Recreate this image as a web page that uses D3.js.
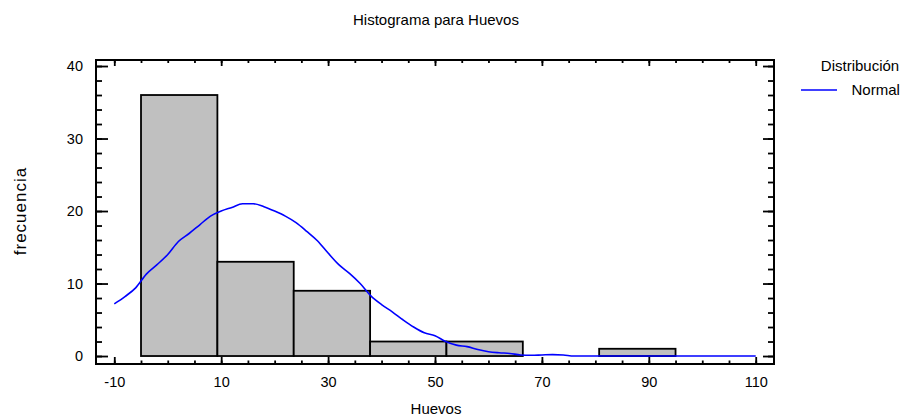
<!DOCTYPE html>
<html>
<head>
<meta charset="utf-8">
<script src="https://cdn.jsdelivr.net/npm/d3@7"></script>
<style>
  body { margin: 0; background: #fff; }
  text { font-family: "Liberation Sans", Arial, sans-serif; fill: #000; }
</style>
</head>
<body>
<svg id="chart" width="904" height="417"></svg>
<script>
// ---- data ----
const binEdges = [-5, 9.29, 23.57, 37.86, 52.14, 66.43, 80.71, 95];
const binCounts = [36, 13, 9, 2, 2, 0, 1];

const normalX = [-10, -8, -6, -4, -2, 0, 2, 4, 6, 8, 10, 12, 14, 16, 18, 20, 22, 24, 26, 28, 30,
  32, 34, 36, 38, 40, 42, 44, 46, 48, 50, 52, 54, 56, 58, 60, 62, 64, 66, 68, 70, 72, 74, 76, 80, 90, 100, 110];
const normalY = [7.2, 8.2, 9.4, 11.3, 12.6, 14.0, 15.8, 16.9, 18.1, 19.3, 20.0, 20.5, 21.0, 21.0, 20.6, 20.0,
  19.3, 18.4, 17.2, 15.9, 14.2, 12.6, 11.4, 10.0, 8.3, 7.1, 6.1, 5.0, 4.0, 3.2, 2.8, 2.0, 1.5, 1.3, 0.9, 0.6,
  0.45, 0.35, 0.15, 0.1, 0.15, 0.2, 0.15, 0, 0, 0, 0, 0];

const xTickLabels = [-10, 10, 30, 50, 70, 90, 110];
const xMinorTicks = d3.range(-10, 111, 5);
const yTickLabels = [0, 10, 20, 30, 40];
const yMinorTicks = d3.range(0, 41, 2);

const titleText = "Histograma para Huevos";
const xLabel = "Huevos";
const yLabel = "frecuencia";
const legendTitle = "Distribución";
const legendItem = "Normal";

// ---- layout ----
const L = 96, R = 774, T = 60, B = 364;
const svg = d3.select("#chart");

const x = d3.scaleLinear().domain([-13.42, 113.42]).range([L, R]);
const y = d3.scaleLinear().domain([-1.1, 40.83]).range([B, T]);
const fmt = d => String(d);

// bars
const bars = binCounts.map((c, i) => ({ x0: binEdges[i], x1: binEdges[i + 1], c }));
svg.append("g").selectAll("rect").data(bars).join("rect")
  .attr("x", d => x(d.x0))
  .attr("y", d => y(d.c))
  .attr("width", d => x(d.x1) - x(d.x0))
  .attr("height", d => y(0) - y(d.c))
  .attr("fill", "#c0c0c0")
  .attr("stroke", "#000")
  .attr("stroke-width", 1.8);

// normal curve
const line = d3.line().x((d, i) => x(normalX[i])).y(d => y(d)).curve(d3.curveMonotoneX);
svg.append("path").datum(normalY)
  .attr("d", line)
  .attr("fill", "none")
  .attr("stroke", "#0000ff")
  .attr("stroke-width", 1.6);

// axes helper
function styleAxis(g) {
  g.select(".domain").remove();
  g.selectAll("line").attr("stroke", "#000").attr("stroke-width", 1.8);
  g.selectAll("text").style("font-size", "14.5px").style("font-family", '"Liberation Sans", Arial, sans-serif').attr("fill", "#000");
}

// bottom major + labels
svg.append("g").attr("transform", `translate(0,${B})`)
  .call(d3.axisBottom(x).tickValues(xTickLabels).tickSize(-7).tickPadding(13).tickFormat(fmt))
  .call(styleAxis);
// bottom minor
svg.append("g").attr("transform", `translate(0,${B})`)
  .call(d3.axisBottom(x).tickValues(xMinorTicks).tickSize(-3.5).tickFormat(""))
  .call(styleAxis);
// top major/minor
svg.append("g").attr("transform", `translate(0,${T})`)
  .call(d3.axisTop(x).tickValues(xTickLabels).tickSize(-6).tickFormat(""))
  .call(styleAxis);
svg.append("g").attr("transform", `translate(0,${T})`)
  .call(d3.axisTop(x).tickValues(xMinorTicks).tickSize(-3).tickFormat(""))
  .call(styleAxis);
// left major + labels
svg.append("g").attr("transform", `translate(${L},0)`)
  .call(d3.axisLeft(y).tickValues(yTickLabels).tickSize(-12).tickPadding(13).tickFormat(fmt))
  .call(styleAxis);
svg.append("g").attr("transform", `translate(${L},0)`)
  .call(d3.axisLeft(y).tickValues(yMinorTicks).tickSize(-6).tickFormat(""))
  .call(styleAxis);
// right
svg.append("g").attr("transform", `translate(${R},0)`)
  .call(d3.axisRight(y).tickValues(yTickLabels).tickSize(-11).tickFormat(""))
  .call(styleAxis);
svg.append("g").attr("transform", `translate(${R},0)`)
  .call(d3.axisRight(y).tickValues(yMinorTicks).tickSize(-6).tickFormat(""))
  .call(styleAxis);

// frame
svg.append("rect").attr("x", L).attr("y", T).attr("width", R - L).attr("height", B - T)
  .attr("fill", "none").attr("stroke", "#000").attr("stroke-width", 2);

// title & labels
svg.append("text").attr("x", 436).attr("y", 25).attr("text-anchor", "middle")
  .style("font-size", "15px").text(titleText);
svg.append("text").attr("x", 436).attr("y", 414).attr("text-anchor", "middle")
  .style("font-size", "15px").text(xLabel);
svg.append("text").attr("transform", "translate(26,211) rotate(-90)").attr("text-anchor", "middle")
  .style("font-size", "17px").style("letter-spacing", "1px").text(yLabel);

// legend
svg.append("text").attr("x", 860).attr("y", 71).attr("text-anchor", "middle")
  .style("font-size", "15px").text(legendTitle);
svg.append("line").attr("x1", 801).attr("x2", 837).attr("y1", 90).attr("y2", 90)
  .attr("stroke", "#0000ff").attr("stroke-width", 1.6);
svg.append("text").attr("x", 851.5).attr("y", 95)
  .style("font-size", "15px").text(legendItem);
</script>
</body>
</html>
